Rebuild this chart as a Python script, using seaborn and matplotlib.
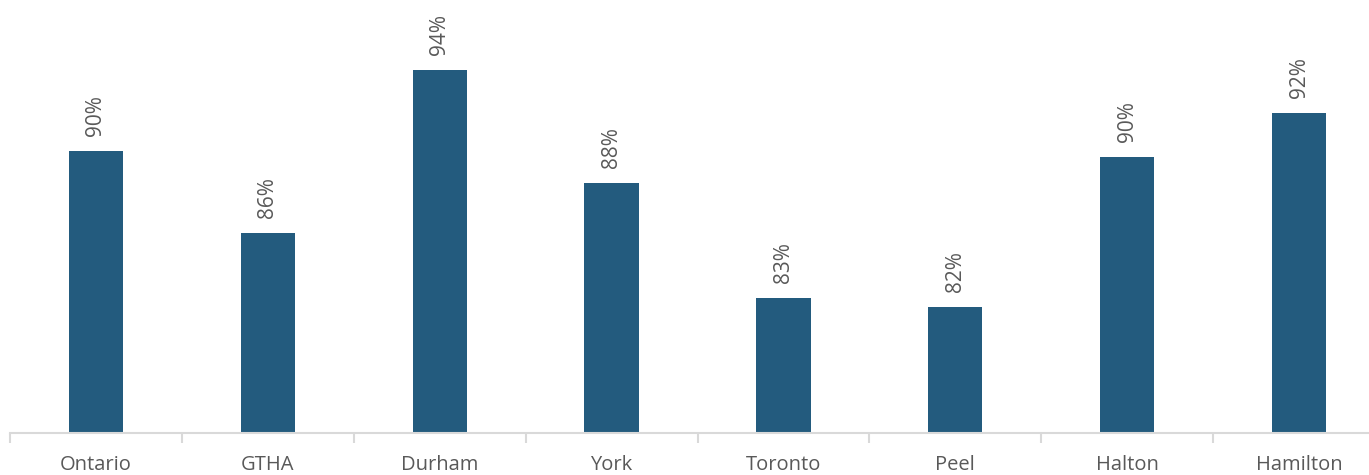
import numpy as np
import pandas as pd
import matplotlib
matplotlib.use("Agg")
import matplotlib.pyplot as plt
import seaborn as sns

regions = ["Ontario", "GTHA", "Durham", "York", "Toronto", "Peel", "Halton", "Hamilton"]
values = [90.1, 86.0, 94.15, 88.5, 82.75, 82.3, 89.8, 92.0]
labels = ["90%", "86%", "94%", "88%", "83%", "82%", "90%", "92%"]

df = pd.DataFrame({"region": regions, "value": values})

sns.set_style("white")
plt.rcParams['font.family'] = ['Open Sans', 'DejaVu Sans']

fig = plt.figure(figsize=(13.69, 4.75), dpi=100)
ax = fig.add_axes([10/1369, 1 - 433/475, 1375/1369, 433/475])

sns.barplot(data=df, x="region", y="value", color="#235B7E", width=0.315,
            saturation=1, linewidth=0, ax=ax)

ax.set_ylim(76, 97.65)
ax.set_xlim(-0.5, len(regions) - 0.5)

for i, (v, lab) in enumerate(zip(values, labels)):
    ax.text(i, v + 0.75, lab, rotation=90, ha="center", va="bottom",
            fontsize=15, color="#595959")

for s in ["top", "right", "left"]:
    ax.spines[s].set_visible(False)
ax.spines["bottom"].set_color("#D9D9D9")
ax.spines["bottom"].set_linewidth(1.5)

ax.set_yticks([])
ax.set_xlabel("")
ax.set_ylabel("")
ax.set_xticks(np.arange(len(regions)))
ax.set_xticklabels(regions, fontsize=14.5, color="#595959")
ax.tick_params(axis="x", which="major", bottom=True, length=0, pad=16)
# boundary ticks between categories
ax.set_xticks(np.arange(len(regions) + 1) - 0.5, minor=True)
ax.tick_params(axis="x", which="minor", bottom=True, length=7, width=1.5,
               color="#D9D9D9")

fig.savefig("out.png", dpi=100)
